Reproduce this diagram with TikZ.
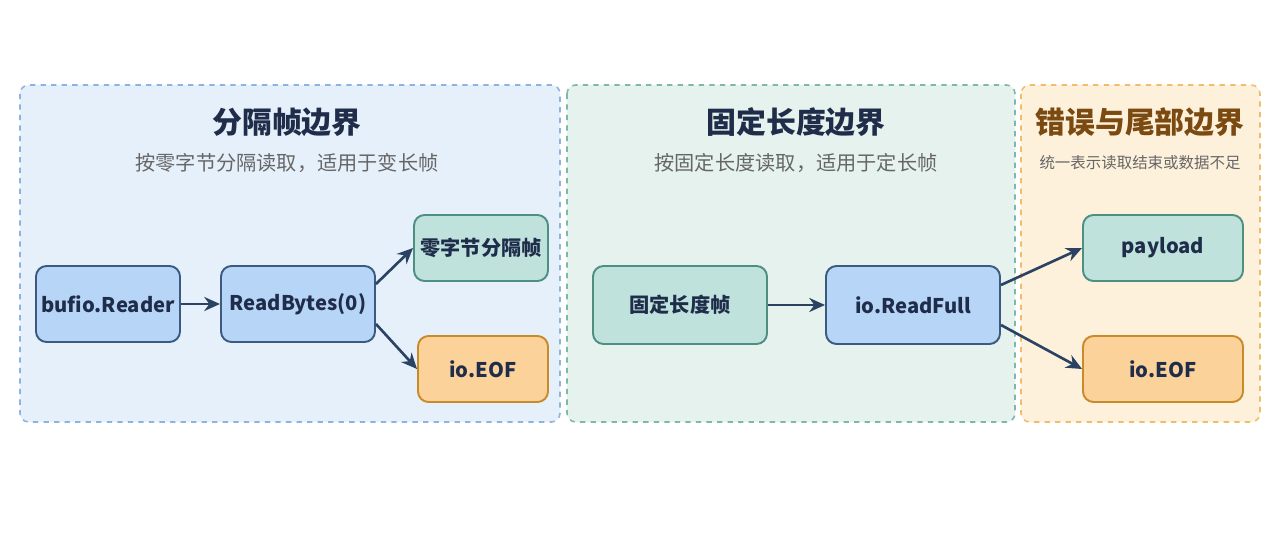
\documentclass[tikz,border=0pt]{standalone}
\usepackage{fontspec}
\setmainfont{Noto Sans CJK SC}
\usetikzlibrary{arrows.meta}
\definecolor{navy}{HTML}{1F2D4A}
\definecolor{arr}{HTML}{2B4263}
\begin{document}
\begin{tikzpicture}[x=0.02cm,y=-0.02cm,
 panel/.style={draw,dashed,line width=0.9pt,rounded corners=5pt},
 box/.style={draw,line width=1.1pt,rounded corners=6pt,font=\bfseries\fontsize{11.5}{14}\selectfont,text=navy,inner sep=0pt},
 bl/.style={box,fill={rgb,255:red,183;green,213;blue,247},draw={rgb,255:red,60;green,90;blue,128}},
 tl/.style={box,fill={rgb,255:red,191;green,227;blue,220},draw={rgb,255:red,78;green,143;blue,131}},
 og/.style={box,fill={rgb,255:red,251;green,211;blue,154},draw={rgb,255:red,201;green,138;blue,42}},
 ttl/.style={font=\bfseries\fontsize{17}{19}\selectfont},
 sub/.style={font=\fontsize{11.5}{13}\selectfont,text=black!60},
 ar/.style={-{Stealth[length=9pt,width=8pt]},line width=1.5pt,draw=arr}]
\useasboundingbox[fill=white] (0,0) rectangle (1280,533);
\draw[panel,fill={rgb,255:red,230;green,240;blue,251},draw={rgb,255:red,143;green,179;blue,224}] (20,85) rectangle (560,422);
\draw[panel,fill={rgb,255:red,229;green,242;blue,238},draw={rgb,255:red,127;green,184;blue,166}] (567,85) rectangle (1015,422);
\draw[panel,fill={rgb,255:red,253;green,241;blue,220},draw={rgb,255:red,240;green,190;blue,106}] (1021,85) rectangle (1260,422);
\node[ttl,text=navy] (t1) at (287,122) {分隔帧边界};
\node[sub] (s1) at (287,163) {按零字节分隔读取，适用于变长帧};
\node[ttl,text=navy] (t2) at (796,122) {固定长度边界};
\node[sub] (s2) at (796,163) {按固定长度读取，适用于定长帧};
\node[ttl,text={rgb,255:red,122;green,74;blue,16}] (t3) at (1140,122) {错误与尾部边界};
\node[sub,font=\fontsize{8.8}{10}\selectfont] (s3) at (1140,163) {统一表示读取结束或数据不足};
\node[bl,minimum width=144*0.02cm,minimum height=76*0.02cm] (br) at (108,304) {bufio.Reader};
\node[bl,minimum width=154*0.02cm,minimum height=76*0.02cm] (rb) at (298,304) {ReadBytes(0)};
\node[tl,minimum width=134*0.02cm,minimum height=66*0.02cm] (zf) at (481,248) {零字节分隔帧};
\node[og,minimum width=130*0.02cm,minimum height=66*0.02cm] (e1) at (483,369) {io.EOF};
\node[tl,minimum width=174*0.02cm,minimum height=78*0.02cm] (ff) at (680,305) {固定长度帧};
\node[bl,minimum width=174*0.02cm,minimum height=78*0.02cm] (rf) at (913,305) {io.ReadFull};
\node[tl,minimum width=160*0.02cm,minimum height=66*0.02cm] (pl) at (1163,248) {payload};
\node[og,minimum width=160*0.02cm,minimum height=66*0.02cm] (e2) at (1163,369) {io.EOF};
\draw[ar] (br) -- (rb);
\draw[ar] ([yshift=0.4cm]rb.east) -- (zf.west);
\draw[ar] ([yshift=-0.4cm]rb.east) -- (e1.west);
\draw[ar] (ff) -- (rf);
\draw[ar] ([yshift=0.4cm]rf.east) -- (pl.west);
\draw[ar] ([yshift=-0.4cm]rf.east) -- (e2.west);
\end{tikzpicture}
\end{document}
